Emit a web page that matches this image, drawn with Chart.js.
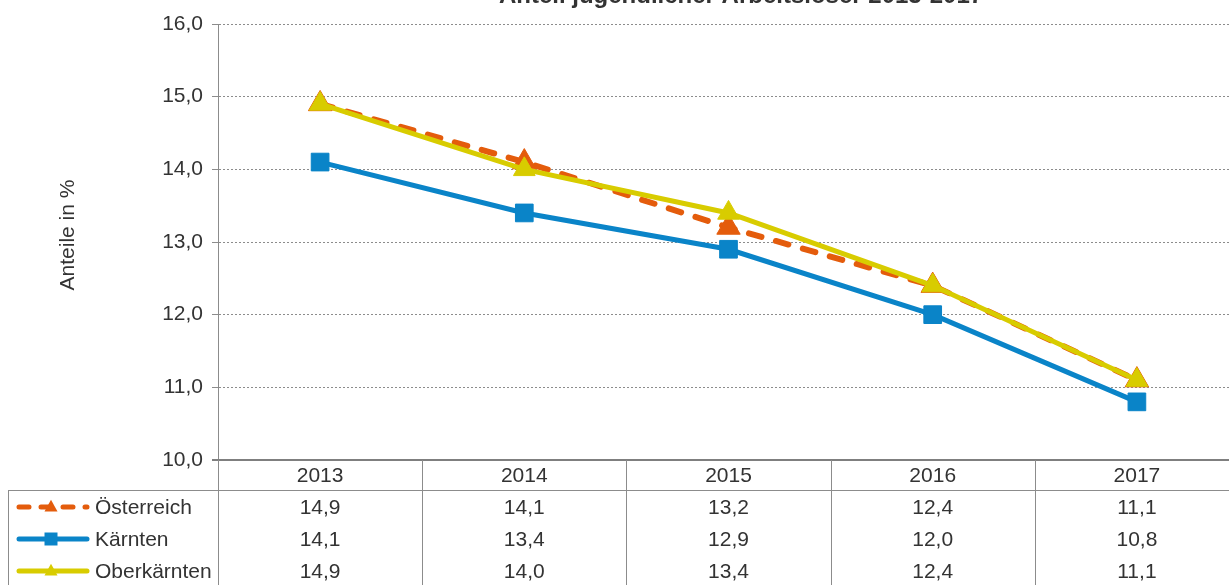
<!DOCTYPE html>
<html>
<head>
<meta charset="utf-8">
<script src="https://cdn.jsdelivr.net/npm/chart.js@4"></script>
<style>
html, body { margin: 0; padding: 0; background: #fff; overflow: hidden; }
#wrap { width: 1229px; height: 585px; overflow: hidden; position: relative; }
canvas { position: absolute; left: 0; top: 0; }
</style>
</head>
<body>
<div id="wrap"><canvas id="chart" width="1240" height="585"></canvas></div>
<script>
// Chart data
const years = ['2013', '2014', '2015', '2016', '2017'];
const oesterreich = [14.9, 14.1, 13.2, 12.4, 11.1];
const kaernten = [14.1, 13.4, 12.9, 12.0, 10.8];
const oberkaernten = [14.9, 14.0, 13.4, 12.4, 11.1];
const seriesNames = ['Österreich', 'Kärnten', 'Oberkärnten'];
const yMin = 10;
const yMax = 16;
const yStep = 1;
const chartTitle = 'Anteil jugendlicher Arbeitsloser 2013-2017';
const axisTitle = 'Anteile in %';

const FONT = '"Liberation Sans", Arial, sans-serif';
const TEXT = '#333333';
const GRID = '#8c8c8c';
const ORANGE = '#e45c0c';
const BLUE = '#0a84c8';
const YELLOW = '#d8cc00';

function fmt(v) {
    return v.toFixed(1).replace('.', ',');
}

const seriesStyles = [
    { color: ORANGE, dash: [13, 15], marker: 'triangle' },
    { color: BLUE, dash: [], marker: 'rect' },
    { color: YELLOW, dash: [], marker: 'triangle' }
];

function drawMarker(ctx, style, x, y, r) {
    ctx.save();
    ctx.setLineDash([]);
    ctx.fillStyle = style.color;
    ctx.beginPath();
    if (style.marker === 'rect') {
        ctx.rect(x - r, y - r, 2 * r, 2 * r);
    } else {
        ctx.moveTo(x, y - r * 1.1);
        ctx.lineTo(x + r, y + r * 0.7);
        ctx.lineTo(x - r, y + r * 0.7);
        ctx.closePath();
    }
    ctx.fill();
    ctx.restore();
}

// Title, axis title and data table below the plot
const tablePlugin = {
    id: 'tablePlugin',
    afterDraw(chart) {
        const ctx = chart.ctx;
        const x = chart.scales.x;
        const area = chart.chartArea;
        const step = x.getPixelForValue(1) - x.getPixelForValue(0);
        const top = area.bottom;
        const rowH = 32;
        const headH = 30;
        const tableLeft = 8;
        const width = chart.width;

        ctx.save();
        // title (cut off at the top like the source)
        ctx.fillStyle = TEXT;
        ctx.font = 'bold 24px ' + FONT;
        ctx.textAlign = 'center';
        ctx.textBaseline = 'alphabetic';
        ctx.fillText(chartTitle, 741, 3);

        // y axis title
        ctx.save();
        ctx.translate(68, 235);
        ctx.rotate(-Math.PI / 2);
        ctx.font = '21px ' + FONT;
        ctx.textBaseline = 'middle';
        ctx.fillText(axisTitle, 0, 0);
        ctx.restore();

        // axis line
        ctx.strokeStyle = '#7f7f7f';
        ctx.lineWidth = 2;
        ctx.beginPath();
        ctx.moveTo(area.left - 6, top);
        ctx.lineTo(width, top);
        ctx.stroke();

        // table grid
        ctx.strokeStyle = GRID;
        ctx.lineWidth = 1;
        ctx.beginPath();
        for (let i = 0; i <= years.length; i++) {
            const bx = Math.round(x.getPixelForValue(i) - step / 2) + 0.5;
            ctx.moveTo(bx, top);
            ctx.lineTo(bx, chart.height);
        }
        ctx.moveTo(tableLeft, top + headH + 0.5);
        ctx.lineTo(width, top + headH + 0.5);
        ctx.moveTo(tableLeft + 0.5, top + headH);
        ctx.lineTo(tableLeft + 0.5, chart.height);
        ctx.stroke();

        // header and values
        ctx.font = '21px ' + FONT;
        ctx.textAlign = 'center';
        ctx.textBaseline = 'middle';
        ctx.fillStyle = TEXT;
        years.forEach((yr, i) => {
            ctx.fillText(yr, x.getPixelForValue(i), top + headH / 2 + 1);
        });
        chart.data.datasets.forEach((ds, r) => {
            const cy = top + headH + rowH / 2 + r * rowH + 2;
            ds.data.forEach((v, i) => {
                ctx.fillText(fmt(v), x.getPixelForValue(i), cy);
            });
        });

        // legend keys
        ctx.textAlign = 'left';
        seriesNames.forEach((name, r) => {
            const st = seriesStyles[r];
            const cy = top + headH + rowH / 2 + r * rowH + 1;
            ctx.save();
            ctx.strokeStyle = st.color;
            ctx.lineWidth = 5;
            ctx.lineCap = 'round';
            ctx.setLineDash(st.dash.length ? [10, 12] : []);
            ctx.beginPath();
            ctx.moveTo(19, cy);
            ctx.lineTo(87, cy);
            ctx.stroke();
            ctx.restore();
            drawMarker(ctx, st, 51, cy, 6.5);
            ctx.fillStyle = TEXT;
            ctx.fillText(name, 95, cy + 1);
        });
        ctx.restore();
    }
};

const seriesData = [oesterreich, kaernten, oberkaernten];
const drawOrder = [2, 1, 0];
const radii = [13.5, 12.5, 12.5];
const lineWidths = [6, 5, 5];

new Chart(document.getElementById('chart'), {
    type: 'line',
    data: {
        labels: years,
        datasets: seriesData.map((vals, i) => ({
            label: seriesNames[i],
            data: vals,
            borderColor: seriesStyles[i].color,
            backgroundColor: seriesStyles[i].color,
            borderWidth: lineWidths[i],
            borderDash: seriesStyles[i].dash,
            borderCapStyle: 'round',
            pointStyle: seriesStyles[i].marker,
            pointRadius: radii[i],
            pointBorderWidth: 1,
            pointBorderColor: seriesStyles[i].color,
            tension: 0,
            order: drawOrder[i]
        }))
    },
    options: {
        responsive: false,
        animation: false,
        devicePixelRatio: 1,
        layout: { autoPadding: false, padding: { top: 24, right: 1, bottom: 125, left: 0 } },
        plugins: {
            legend: { display: false },
            tooltip: { enabled: false },
            title: { display: false }
        },
        scales: {
            x: {
                type: 'category',
                offset: true,
                display: false
            },
            y: {
                min: yMin,
                max: yMax,
                afterFit(scale) { scale.width = 218; },
                ticks: {
                    stepSize: yStep,
                    padding: 9,
                    color: TEXT,
                    font: { family: FONT, size: 21 },
                    callback: v => fmt(v)
                },
                grid: {
                    color: c => (c.tick && c.tick.value === yMin) ? 'rgba(0,0,0,0)' : GRID,
                    tickColor: GRID,
                    tickLength: 6,
                    lineWidth: 1
                },
                border: { display: true, color: GRID, width: 1, dash: [2, 2] }
            }
        }
    },
    plugins: [tablePlugin]
});
</script>
</body>
</html>
